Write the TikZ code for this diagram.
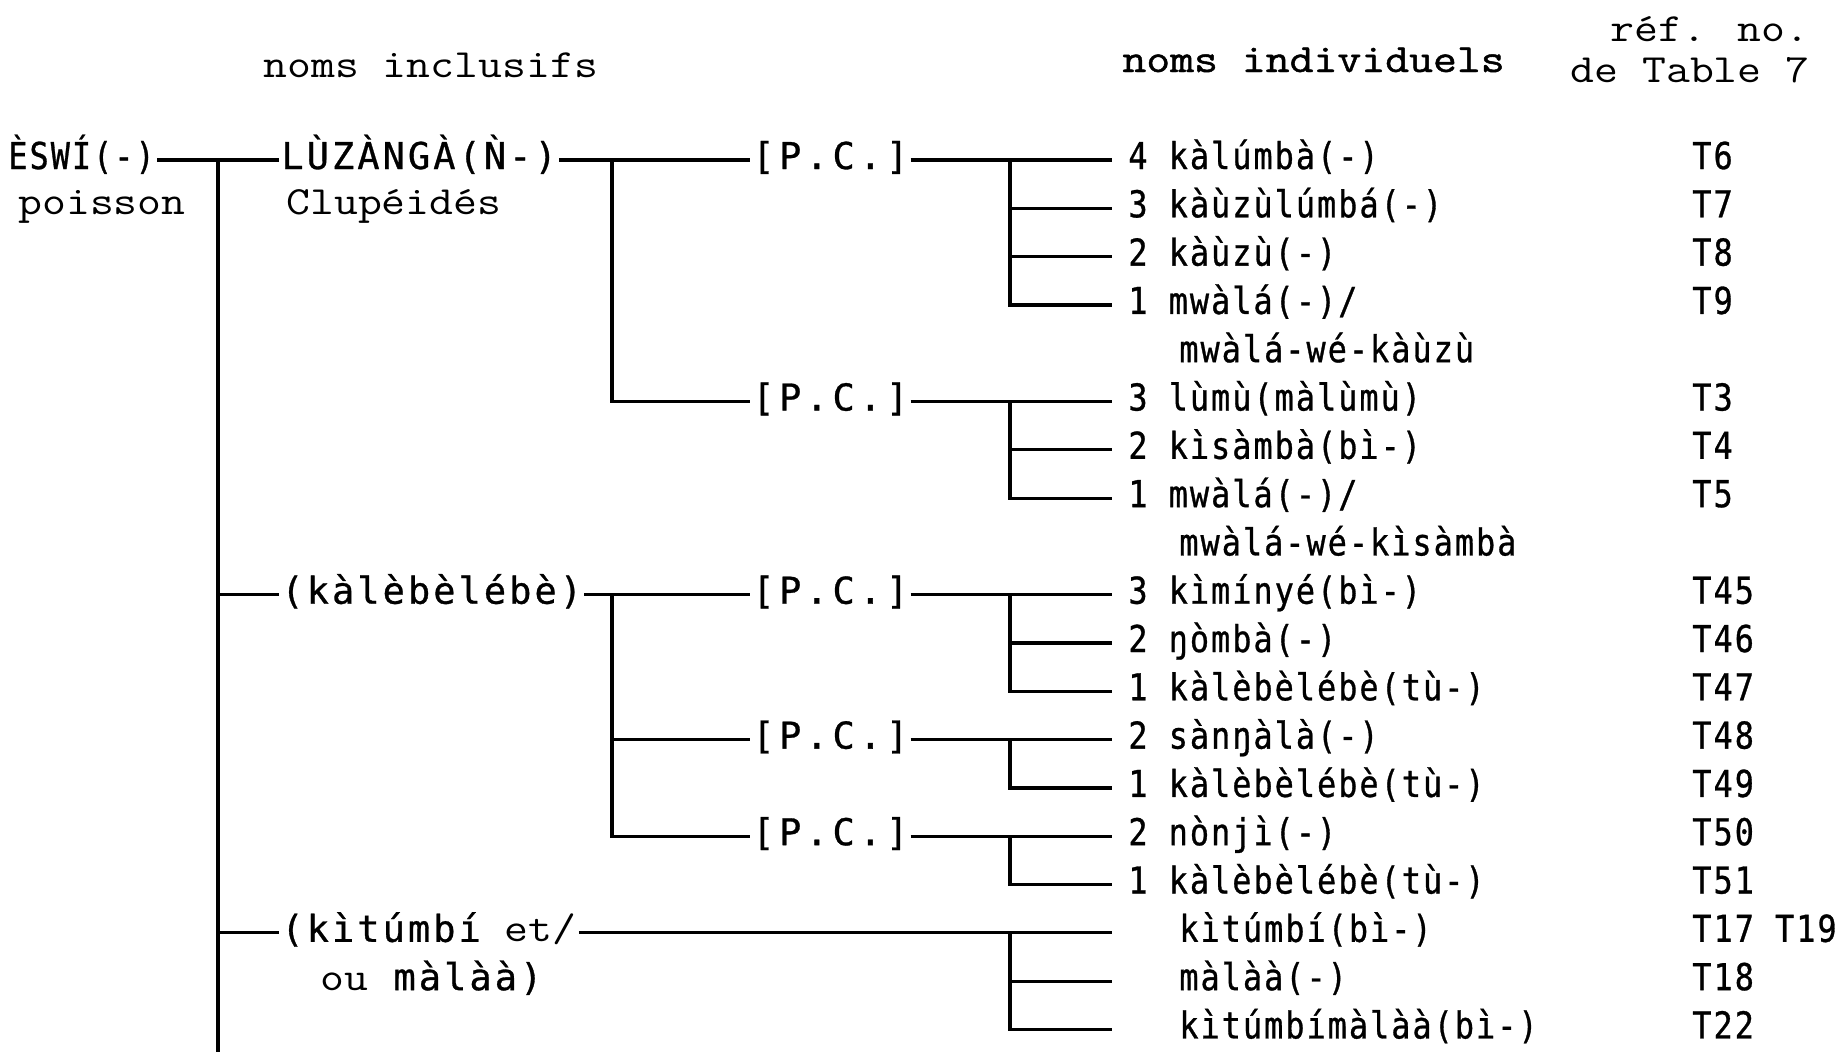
\documentclass[tikz,border=0pt]{standalone}
\usepackage{fontspec}
\newfontfamily\sansmono[FakeStretch=0.86,FakeBold=0.8,LetterSpace=5.5]{DejaVu Sans Mono}
\newfontfamily\sansmonowide[FakeStretch=1.0,FakeBold=0.8,LetterSpace=8.2]{DejaVu Sans Mono}
\newfontfamily\sansmonopc[FakeStretch=1.0,FakeBold=0.8,LetterSpace=12]{DejaVu Sans Mono}
\newfontfamily\courmono[FakeStretch=1.16]{Latin Modern Mono}
\newfontfamily\courmonobf[FakeStretch=1.16,FakeBold=1.2]{Latin Modern Mono}
\newcommand\tsans{\sansmono\fontsize{18.5}{20}\selectfont}
\newcommand\tsanswide{\sansmonowide\fontsize{18.5}{20}\selectfont}
\newcommand\tsanspc{\sansmonopc\fontsize{18.5}{20}\selectfont}
\newcommand\tcour{\courmono\fontsize{20}{22}\selectfont}
\newcommand\tcourbf{\courmonobf\fontsize{20}{22}\selectfont}
\begin{document}
\begin{tikzpicture}[x=0.5pt,y=-0.5pt,
  sw/.style={font=\tsans, inner sep=1pt, anchor=base west},
  swide/.style={font=\tsanswide, inner sep=1pt, anchor=base west},
  spc/.style={font=\tsanspc, inner sep=1pt, anchor=base west},
  cw/.style={font=\tcour, inner sep=1pt, anchor=base west},
  ln/.style={line width=1.6pt},
  trunk/.style={line width=2pt}]
\useasboundingbox[fill=white] (0,0) rectangle (1845,1051);

% row line levels (y of connector) and base lines (y of text)
\foreach \k in {0,...,18}
  { \coordinate (L\k) at (0,{160+48.3*\k}); \coordinate (B\k) at (0,{169+48.3*\k}); }
\coordinate (T0) at (218,160);
\coordinate (Tend) at (218,1065);
\coordinate (V1) at (612,0);
\coordinate (V2) at (1010,0);
\coordinate (E) at (1112,0);
\coordinate (X0) at (6,0);      % level-1 label
\coordinate (XL) at (279,0);    % level-2 labels
\coordinate (XL2) at (318,0);
\coordinate (XI) at (1126,0);   % numbered items
\coordinate (XJ) at (1177,0);   % unnumbered items
\coordinate (XR) at (1690,0);   % reference numbers
\coordinate (XP) at (750,0);    % [P.C.]

% headers
\node[cw] (hinc) at (261,77) {noms inclusifs};
\node[cw, font=\tcourbf] (hind) at (1120,72) {noms individuels};
\node[cw, anchor=base east] (href1) at (1812,41) {réf. no.};
\node[cw, anchor=base east] (href2) at (1812,82) {de Table 7};

% level 1
\node[sw] (eswi) at (X0 |- B0) {ÈSWÍ(-)};
\node[cw] (pois) at (16,214) {poisson};

% level 2
\node[swide] (luz) at (XL |- B0) {LÙZÀNGÀ(Ǹ-)};
\node[cw] (clup) at (284,214) {Clupéidés};
\node[swide] (kal) at (XL |- B9) {(kàlèbèlébè)};
\node[swide] (kit) at (XL |- B16) {(kìtúmbí{\tcour\ et/}};
\node[swide] (kit2) at (XL2 |- B17) {{\tcour ou} màlàà)};

% [P.C.] nodes
\node[spc] (pc0) at (XP |- B0) {[P.C.]};
\node[spc] (pc5) at (XP |- B5) {[P.C.]};
\node[spc] (pc9) at (XP |- B9) {[P.C.]};
\node[spc] (pc12) at (XP |- B12) {[P.C.]};
\node[spc] (pc14) at (XP |- B14) {[P.C.]};

% individual names
\node[sw] (it0) at (XI |- B0) {4 kàlúmbà(-)};
\node[sw] (it1) at (XI |- B1) {3 kàùzùlúmbá(-)};
\node[sw] (it2) at (XI |- B2) {2 kàùzù(-)};
\node[sw] (it3) at (XI |- B3) {1 mwàlá(-)/};
\node[sw] (it4) at (XJ |- B4) {mwàlá-wé-kàùzù};
\node[sw] (it5) at (XI |- B5) {3 lùmù(màlùmù)};
\node[sw] (it6) at (XI |- B6) {2 kìsàmbà(bì-)};
\node[sw] (it7) at (XI |- B7) {1 mwàlá(-)/};
\node[sw] (it8) at (XJ |- B8) {mwàlá-wé-kìsàmbà};
\node[sw] (it9) at (XI |- B9) {3 kìmínyé(bì-)};
\node[sw] (it10) at (XI |- B10) {2 ŋòmbà(-)};
\node[sw] (it11) at (XI |- B11) {1 kàlèbèlébè(tù-)};
\node[sw] (it12) at (XI |- B12) {2 sànŋàlà(-)};
\node[sw] (it13) at (XI |- B13) {1 kàlèbèlébè(tù-)};
\node[sw] (it14) at (XI |- B14) {2 nònjì(-)};
\node[sw] (it15) at (XI |- B15) {1 kàlèbèlébè(tù-)};
\node[sw] (it16) at (XJ |- B16) {kìtúmbí(bì-)};
\node[sw] (it17) at (XJ |- B17) {màlàà(-)};
\node[sw] (it18) at (XJ |- B18) {kìtúmbímàlàà(bì-)};

% reference numbers
\node[sw] (r0) at (XR |- B0) {T6};
\node[sw] (r1) at (XR |- B1) {T7};
\node[sw] (r2) at (XR |- B2) {T8};
\node[sw] (r3) at (XR |- B3) {T9};
\node[sw] (r5) at (XR |- B5) {T3};
\node[sw] (r6) at (XR |- B6) {T4};
\node[sw] (r7) at (XR |- B7) {T5};
\node[sw] (r9) at (XR |- B9) {T45};
\node[sw] (r10) at (XR |- B10) {T46};
\node[sw] (r11) at (XR |- B11) {T47};
\node[sw] (r12) at (XR |- B12) {T48};
\node[sw] (r13) at (XR |- B13) {T49};
\node[sw] (r14) at (XR |- B14) {T50};
\node[sw] (r15) at (XR |- B15) {T51};
\node[sw] (r16) at (XR |- B16) {T17 T19};
\node[sw] (r17) at (XR |- B17) {T18};
\node[sw] (r18) at (XR |- B18) {T22};

% trunk and level-1 connectors
\draw[trunk] (T0) -- (Tend);
\draw[ln] (eswi.east |- L0) -- (luz.west |- L0);
\draw[ln] (T0 |- L9) -- (kal.west |- L9);
\draw[ln] (T0 |- L16) -- (kit.west |- L16);

% level-2 connectors
\draw[ln] (luz.east |- L0) -- (pc0.west |- L0);
\draw[ln] (V1 |- L0) -- (V1 |- L5) -- (pc5.west |- L5);
\draw[ln] (kal.east |- L9) -- (pc9.west |- L9);
\draw[ln] (V1 |- L9) -- (V1 |- L14) -- (pc14.west |- L14);
\draw[ln] (V1 |- L12) -- (pc12.west |- L12);

% [P.C.] 1
\draw[ln] (pc0.east |- L0) -- (E |- L0);
\draw[ln] (V2 |- L0) -- (V2 |- L3) -- (E |- L3);
\draw[ln] (V2 |- L1) -- (E |- L1);
\draw[ln] (V2 |- L2) -- (E |- L2);
% [P.C.] 2
\draw[ln] (pc5.east |- L5) -- (E |- L5);
\draw[ln] (V2 |- L5) -- (V2 |- L7) -- (E |- L7);
\draw[ln] (V2 |- L6) -- (E |- L6);
% [P.C.] 3
\draw[ln] (pc9.east |- L9) -- (E |- L9);
\draw[ln] (V2 |- L9) -- (V2 |- L11) -- (E |- L11);
\draw[ln] (V2 |- L10) -- (E |- L10);
% [P.C.] 4
\draw[ln] (pc12.east |- L12) -- (E |- L12);
\draw[ln] (V2 |- L12) -- (V2 |- L13) -- (E |- L13);
% [P.C.] 5
\draw[ln] (pc14.east |- L14) -- (E |- L14);
\draw[ln] (V2 |- L14) -- (V2 |- L15) -- (E |- L15);
% kitumbi branch
\draw[ln] (kit.east |- L16) -- (E |- L16);
\draw[ln] (V2 |- L16) -- (V2 |- L18) -- (E |- L18);
\draw[ln] (V2 |- L17) -- (E |- L17);
\end{tikzpicture}
\end{document}
